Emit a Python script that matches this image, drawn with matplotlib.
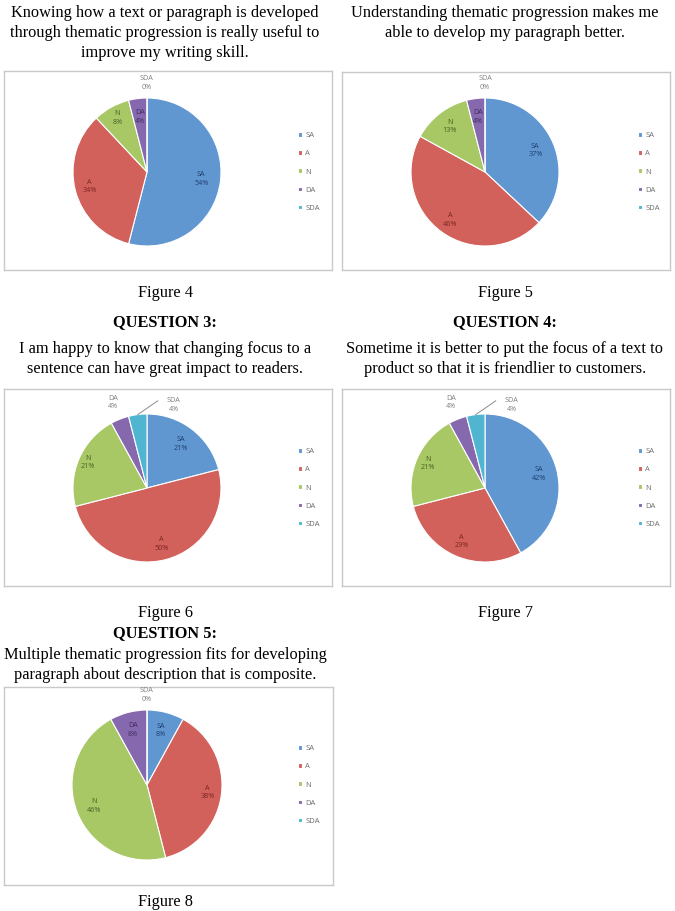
import numpy as np
import matplotlib.pyplot as plt

# survey answers, percent of students
categories = ['SA', 'A', 'N', 'DA', 'SDA']
fig4 = [54, 34, 8, 4, 0]
fig5 = [37, 46, 13, 4, 0]
fig6 = [21, 50, 21, 4, 4]
fig7 = [42, 29, 21, 4, 4]
fig8 = [8, 38, 46, 8, 0]

colors = ['#6097D1', '#D3615B', '#A8C765', '#8668AE', '#50B5D0']
label_colors = ['#1F3E6E', '#7A2522', '#4B6124', '#3E2D5E', '#7F7F7F']

W, H = 675, 911
fig = plt.figure(figsize=(W / 100, H / 100), dpi=100)
fig.patch.set_facecolor('white')
serif = 'Liberation Serif'


def ftext(x, y, s, **kw):
    fig.text(x / W, 1 - y / H, s, ha='center', va='center', family=serif, size=11.8, **kw)


def lines(x, y0, rows, step=19.8):
    for i, s in enumerate(rows):
        ftext(x, y0 + i * step, s)


def pie_panel(values, box, center, r, rf, shifts, leg_x):
    x0, y0, x1, y1 = box
    ax = fig.add_axes([x0 / W, 1 - y1 / H, (x1 - x0) / W, (y1 - y0) / H])
    cx, cy = center[0], H - center[1]
    wedges, _ = ax.pie(values, colors=colors, startangle=90, counterclock=False,
                       center=(cx, cy), radius=r,
                       wedgeprops=dict(edgecolor='white', linewidth=0.8))
    ax.set_aspect('auto')
    ax.set_xlim(x0, x1)
    ax.set_ylim(H - y1, H - y0)
    ax.set_frame_on(True)
    for sp in ax.spines.values():
        sp.set_color('#C9C9C9')
        sp.set_linewidth(1.0)
    ax.set_xticks([])
    ax.set_yticks([])

    total = float(sum(values))
    cum = np.concatenate([[0], np.cumsum(values)[:-1]])
    for i, (cat, v) in enumerate(zip(categories, values)):
        mid = 90 - 360 * cum[i] / total - 180 * v / total
        ang = np.radians(mid + shifts[i])
        lx = cx + rf[i] * r * np.cos(ang)
        ly = cy + rf[i] * r * np.sin(ang)
        col = label_colors[i] if rf[i] < 1 else '#808080'
        ax.text(lx, ly, '%s\n%d%%' % (cat, v), ha='center', va='center',
                fontsize=5.2, color=col, family='Open Sans', linespacing=1.3)
        if shifts[i] != 0:
            m = np.radians(mid)
            ax.plot([cx + r * np.cos(m), lx - 16], [cy + r * np.sin(m), ly + 4],
                    color='#8C8C8C', lw=0.7)

    ax.legend(wedges, categories, loc='center left',
              bbox_to_anchor=(leg_x, cy), bbox_transform=ax.transData,
              frameon=False, labelcolor='#6E6E6E',
              handlelength=0.55, handleheight=0.55, handletextpad=0.4,
              labelspacing=1.45, borderpad=0, prop={'family': 'Open Sans', 'size': 5.5})


L, R = 165, 505

# row 1
lines(L, 13, ['Knowing how a text or paragraph is developed',
              'through thematic progression is really useful to',
              'improve my writing skill.'])
lines(R, 13, ['Understanding thematic progression makes me',
              'able to develop my paragraph better.'])
pie_panel(fig4, (4, 71, 332, 270), (147, 172), 74,
          [0.74, 0.8, 0.83, 0.75, 1.2], [0, 0, 0, 0, 0], 294)
pie_panel(fig5, (342, 72, 670, 270), (485, 172), 74,
          [0.74, 0.8, 0.78, 0.75, 1.2], [0, 0, 0, 0, 0], 634)
ftext(L, 293, 'Figure 4')
ftext(R, 293, 'Figure 5')

# row 2
ftext(L, 322, 'QUESTION 3:', weight='bold')
ftext(R, 322, 'QUESTION 4:', weight='bold')
lines(L, 349, ['I am happy to know that changing focus to a',
               'sentence can have great impact to readers.'])
lines(R, 349, ['Sometime it is better to put the focus of a text to',
               'product so that it is friendlier to customers.'])
pie_panel(fig6, (4, 389, 332, 586), (147, 488), 74,
          [0.75, 0.78, 0.87, 1.24, 1.18], [0, 0, 0, 0, -25], 294)
pie_panel(fig7, (342, 389, 670, 586), (485, 488), 74,
          [0.75, 0.79, 0.84, 1.24, 1.18], [0, 0, 0, 0, -25], 634)
ftext(L, 613, 'Figure 6')
ftext(R, 613, 'Figure 7')

# row 3
ftext(L, 633, 'QUESTION 5:', weight='bold')
lines(L, 655, ['Multiple thematic progression fits for developing',
               'paragraph about description that is composite.'])
pie_panel(fig8, (4, 687, 333, 885), (147, 785), 75,
          [0.75, 0.81, 0.76, 0.76, 1.2], [0, 0, 0, 0, 0], 294)
ftext(L, 902, 'Figure 8')

fig.savefig('out.png', dpi=100, facecolor='white')
